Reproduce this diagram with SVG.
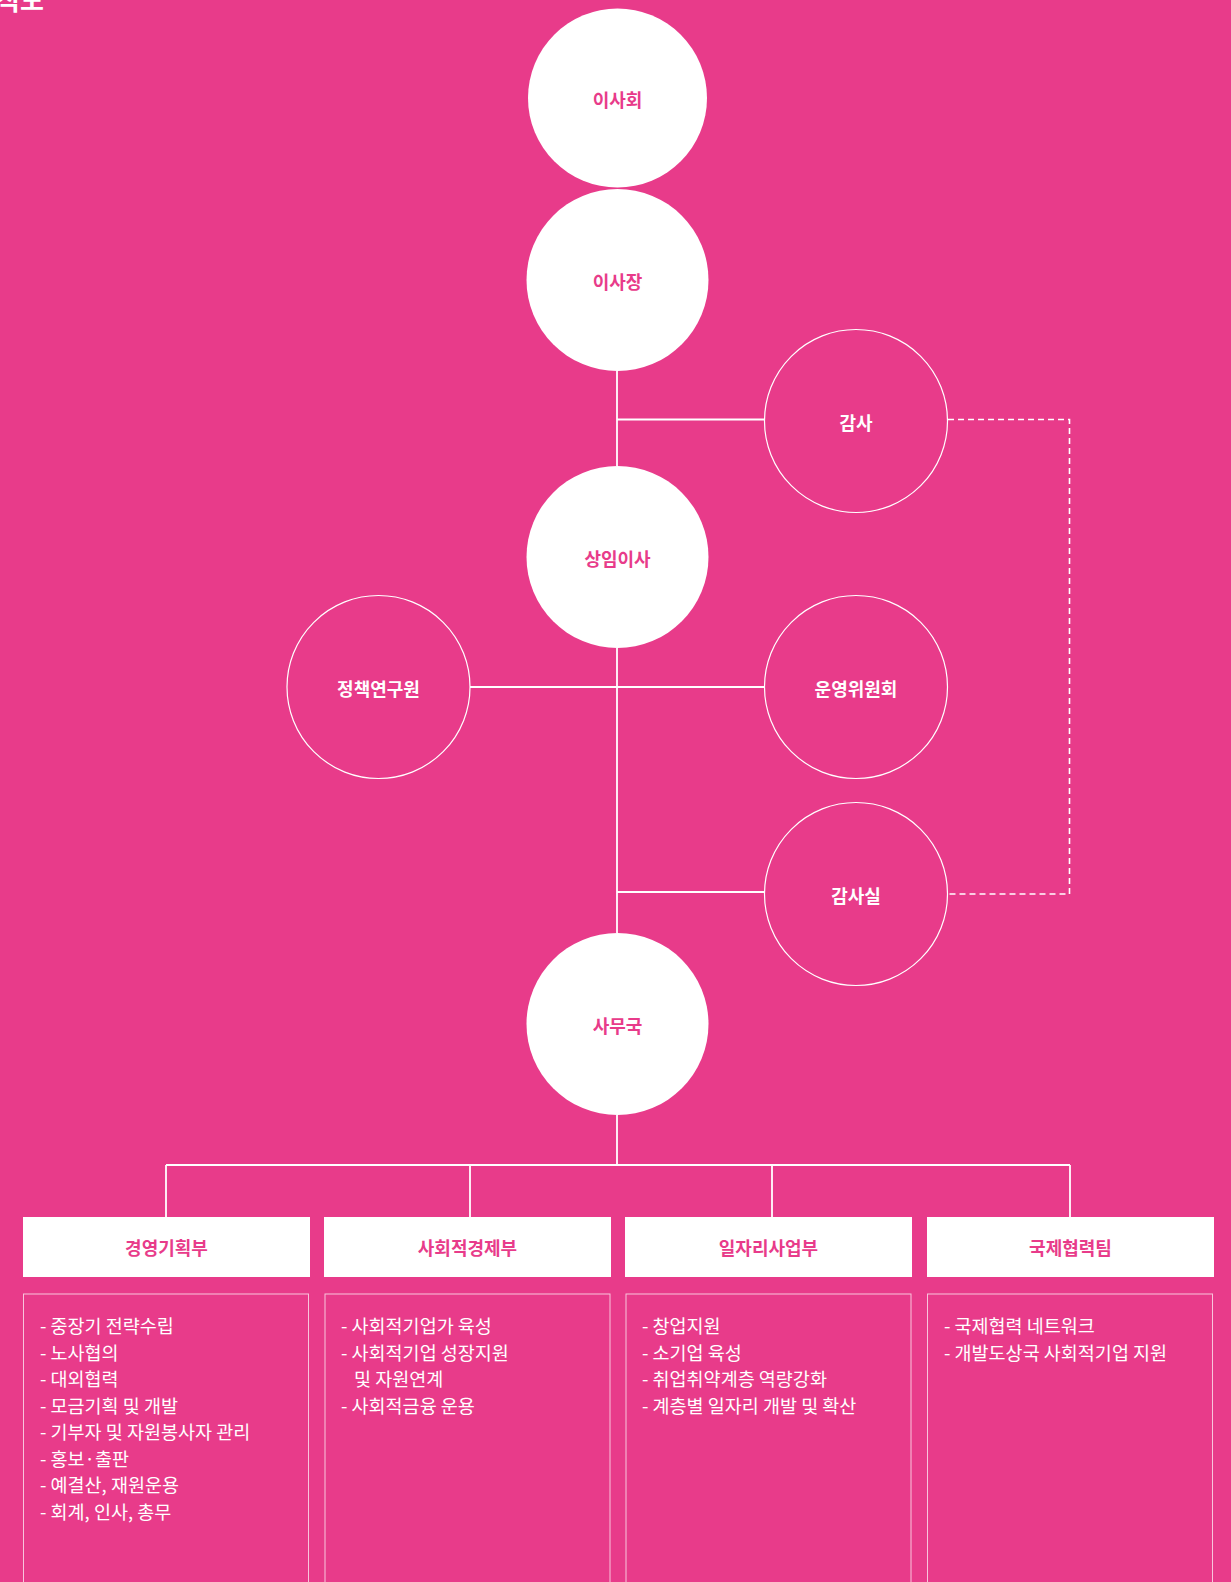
<svg xmlns="http://www.w3.org/2000/svg" width="1231" height="1582" viewBox="0 0 1231 1582">
<style>
.bg{fill:#e83b8a}
.solid{fill:#ffffff}
.ring{fill:none;stroke:#ffffff;stroke-width:1.2}
.ln{stroke:#ffffff;stroke-width:1.8;fill:none}
.dash{stroke:#ffffff;stroke-width:1.6;fill:none;stroke-dasharray:6 4}
.lbl{font-family:"Noto Sans CJK KR","Noto Sans",sans-serif;font-weight:700;font-size:18px;text-anchor:middle;dominant-baseline:central}
.pk{fill:#e83b8a}
.wh{fill:#ffffff}
.hdr{fill:#ffffff}
.body{fill:none;stroke:#ffffff;stroke-opacity:0.7;stroke-width:1}
.item{font-family:"Noto Sans CJK KR","Noto Sans",sans-serif;font-weight:400;font-size:18.5px;fill:#ffffff}
.title{font-family:"Noto Sans CJK KR","Noto Sans",sans-serif;font-weight:700;font-size:26px;fill:#ffffff}
</style>
<rect class="bg" x="0" y="0" width="1231" height="1582"/>
<text class="title" x="-4" y="10">직도</text>

<g id="connectors">
<line class="ln" x1="617" y1="371" x2="617" y2="466"/>
<line class="ln" x1="617" y1="419.5" x2="764" y2="419.5"/>
<line class="ln" x1="617" y1="648" x2="617" y2="933"/>
<line class="ln" x1="470" y1="687" x2="764" y2="687"/>
<line class="ln" x1="617" y1="892" x2="764" y2="892"/>
<polyline class="dash" points="948,419.5 1069.5,419.5 1069.5,894 948,894"/>
<line class="ln" x1="617" y1="1115" x2="617" y2="1165"/>
<line class="ln" x1="166" y1="1165" x2="1070" y2="1165"/>
<line class="ln" x1="166" y1="1165" x2="166" y2="1217"/>
<line class="ln" x1="470" y1="1165" x2="470" y2="1217"/>
<line class="ln" x1="772" y1="1165" x2="772" y2="1217"/>
<line class="ln" x1="1070" y1="1165" x2="1070" y2="1217"/>
</g>

<g id="n-board">
<circle class="solid" cx="617.5" cy="98" r="89.5"/>
<text class="lbl pk" x="617.5" y="99">이사회</text>
</g>
<g id="n-chair">
<circle class="solid" cx="617.5" cy="280" r="91"/>
<text class="lbl pk" x="617.5" y="281">이사장</text>
</g>
<g id="n-auditor">
<circle class="ring" cx="856" cy="421" r="91.5"/>
<text class="lbl wh" x="856" y="422">감사</text>
</g>
<g id="n-director">
<circle class="solid" cx="617.5" cy="557" r="91"/>
<text class="lbl pk" x="617.5" y="558">상임이사</text>
</g>
<g id="n-research">
<circle class="ring" cx="378.5" cy="687" r="91.5"/>
<text class="lbl wh" x="378.5" y="688">정책연구원</text>
</g>
<g id="n-committee">
<circle class="ring" cx="856" cy="687" r="91.5"/>
<text class="lbl wh" x="856" y="688">운영위원회</text>
</g>
<g id="n-audit-office">
<circle class="ring" cx="856" cy="894" r="91.5"/>
<text class="lbl wh" x="856" y="895">감사실</text>
</g>
<g id="n-secretariat">
<circle class="solid" cx="617.5" cy="1024" r="91"/>
<text class="lbl pk" x="617.5" y="1025">사무국</text>
</g>

<g id="d-management">
<rect class="hdr" x="23" y="1217" width="287" height="60"/>
<text class="lbl pk" x="166.5" y="1247">경영기획부</text>
<rect class="body" x="23.5" y="1294" width="285" height="320"/>
<text class="item" x="40" y="1333">- 중장기 전략수립</text>
<text class="item" x="40" y="1359.5">- 노사협의</text>
<text class="item" x="40" y="1386">- 대외협력</text>
<text class="item" x="40" y="1412.5">- 모금기획 및 개발</text>
<text class="item" x="40" y="1439">- 기부자 및 자원봉사자 관리</text>
<text class="item" x="40" y="1465.5">- 홍보·출판</text>
<text class="item" x="40" y="1492">- 예결산, 재원운용</text>
<text class="item" x="40" y="1518.5">- 회계, 인사, 총무</text>
</g>

<g id="d-social-economy">
<rect class="hdr" x="324" y="1217" width="287" height="60"/>
<text class="lbl pk" x="467.5" y="1247">사회적경제부</text>
<rect class="body" x="325" y="1294" width="285" height="320"/>
<text class="item" x="341" y="1333">- 사회적기업가 육성</text>
<text class="item" x="341" y="1359.5">- 사회적기업 성장지원</text>
<text class="item" x="354" y="1386">및 자원연계</text>
<text class="item" x="341" y="1412.5">- 사회적금융 운용</text>
</g>

<g id="d-jobs">
<rect class="hdr" x="625" y="1217" width="287" height="60"/>
<text class="lbl pk" x="768.5" y="1247">일자리사업부</text>
<rect class="body" x="626" y="1294" width="285" height="320"/>
<text class="item" x="642" y="1333">- 창업지원</text>
<text class="item" x="642" y="1359.5">- 소기업 육성</text>
<text class="item" x="642" y="1386">- 취업취약계층 역량강화</text>
<text class="item" x="642" y="1412.5">- 계층별 일자리 개발 및 확산</text>
</g>

<g id="d-intl">
<rect class="hdr" x="927" y="1217" width="287" height="60"/>
<text class="lbl pk" x="1070.5" y="1247">국제협력팀</text>
<rect class="body" x="927.5" y="1294" width="285" height="320"/>
<text class="item" x="944" y="1333">- 국제협력 네트워크</text>
<text class="item" x="944" y="1359.5">- 개발도상국 사회적기업 지원</text>
</g>
</svg>
